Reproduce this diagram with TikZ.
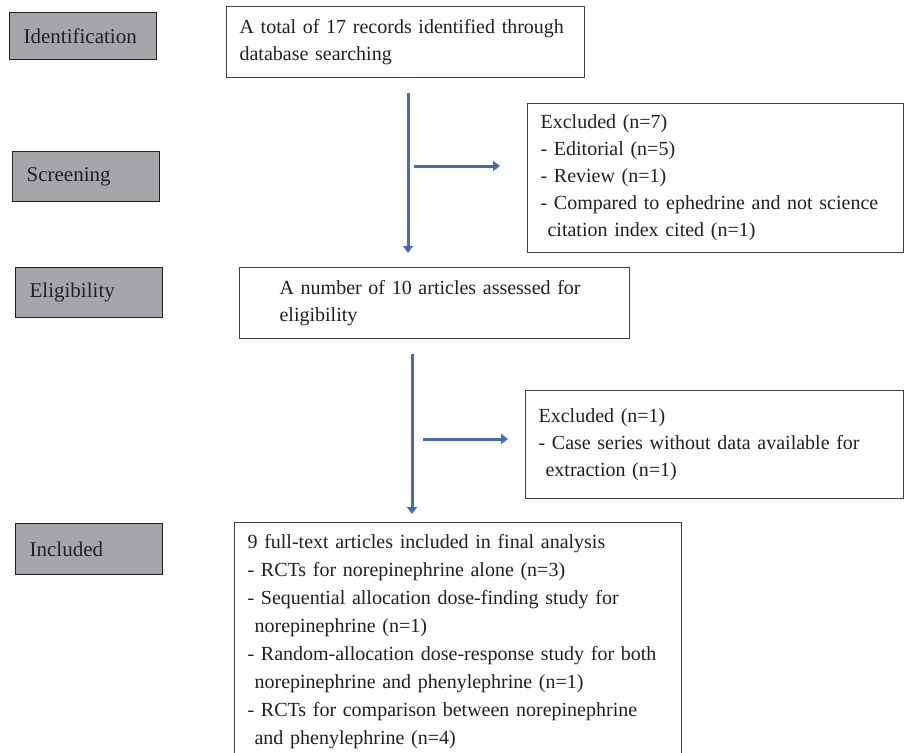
\documentclass[tikz,border=0pt]{standalone}
\usepackage{fontspec}
\setmainfont{Liberation Serif}
\usetikzlibrary{arrows.meta}

\definecolor{phasegray}{RGB}{166,166,170}
\definecolor{flowblue}{RGB}{68,108,182}
\definecolor{inkgray}{RGB}{35,31,32}

\begin{document}
\begin{tikzpicture}[
        x=1pt, y=-1pt,
        every node/.style={anchor=north west, inner ysep=0pt, align=left, text=inkgray,
            font=\fontsize{20}{27}\selectfont},
        phase/.style={draw=inkgray, line width=1.3pt, fill=phasegray, inner xsep=14pt, text width=119pt,
            font=\fontsize{21}{27}\selectfont},
        box/.style={draw=inkgray!85, line width=1.2pt, fill=white, inner xsep=13pt},
        flow/.style={draw=flowblue, line width=3pt, -{Triangle[length=7pt, width=10pt]}}
    ]

    \fill[white] (0,0) rectangle (904,752);
    \useasboundingbox (0,0) rectangle (904,752);
    \clip (0,0) rectangle (904,752);

    % stages on the left
    \node[phase, minimum height=47pt] (ident) at (9,12) {Identification};
    \node[phase, minimum height=50pt] (screen) at (12,151) {Screening};
    \node[phase, minimum height=50pt] (elig) at (15,267) {Eligibility};
    \node[phase, minimum height=51pt] (incl) at (15,523) {Included};

    % flow boxes
    \node[box, text width=332pt, minimum height=71pt] (records) at (226,6)
        {A total of 17 records identified through\\database searching};
    \node[box, text width=350pt, minimum height=149pt] (excl1) at (527,103)
        {Excluded (n=7)\\- Editorial (n=5)\\- Review (n=1)\\- Compared to ephedrine and not science\\\hspace*{7pt}citation index cited (n=1)};
    \node[box, inner xsep=40pt, text width=310pt, minimum height=71pt] (assessed) at (239,267)
        {A number of 10 articles assessed for\\eligibility};
    \node[box, text width=352pt, minimum height=108pt] (excl2) at (525,390)
        {Excluded (n=1)\\- Case series without data available for\\\hspace*{7pt}extraction (n=1)};
    \node[box, text width=421pt, minimum height=238pt, font=\fontsize{20}{28}\selectfont] (final) at (234,522)
        {9 full-text articles included in final analysis\\- RCTs for norepinephrine alone (n=3)\\- Sequential allocation dose-finding study for\\\hspace*{7pt}norepinephrine (n=1)\\- Random-allocation dose-response study for both\\\hspace*{7pt}norepinephrine and phenylephrine (n=1)\\- RCTs for comparison between norepinephrine\\\hspace*{7pt}and phenylephrine (n=4)};

    % arrows
    \coordinate (v1) at (408,0);
    \coordinate (h1) at (414,166);
    \coordinate (v2) at (412,0);
    \coordinate (h2) at (423,439);

    \draw[flow, shorten <=15pt, shorten >=14pt] (records.south -| v1) -- (assessed.north -| v1);
    \draw[flow, shorten >=27pt] (h1) -- (h1 -| excl1.west);
    \draw[flow, shorten <=15pt, shorten >=8pt] (assessed.south -| v2) -- (final.north -| v2);
    \draw[flow, shorten >=17pt] (h2) -- (h2 -| excl2.west);

\end{tikzpicture}
\end{document}
